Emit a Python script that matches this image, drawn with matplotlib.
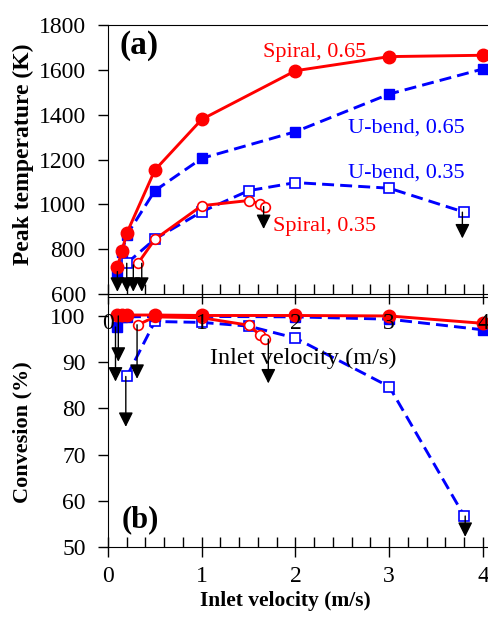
import matplotlib
matplotlib.use("Agg")
import matplotlib.pyplot as plt
from matplotlib.ticker import MultipleLocator

plt.rcParams['font.family'] = ['Liberation Serif', 'DejaVu Serif']

RED = '#ff0000'
BLUE = '#0000ff'

# ===============================
# Data
# ===============================
# Spiral, equivalence ratio 0.65
sp65_v = [0.1, 0.15, 0.2, 0.5, 1.0, 2.0, 3.0, 4.0]
sp65_T = [722, 793, 871, 1153, 1379, 1596, 1659, 1665]
sp65_X = [100.2, 100.2, 100.2, 100.2, 100.1, 100.1, 100.0, 98.4]

# U-bend, 0.65
ub65_v = [0.1, 0.15, 0.2, 0.5, 1.0, 2.0, 3.0, 4.0]
ub65_T = [700, 789, 863, 1061, 1205, 1324, 1492, 1604]
ub65_X = [97.6, 99.8, 99.8, 99.9, 99.9, 99.8, 99.3, 97.0]

# U-bend, 0.35
ub35_v = [0.2, 0.5, 1.0, 1.5, 2.0, 3.0, 3.8]
ub35_T = [737, 845, 967, 1061, 1097, 1072, 965]
ub35_X = [86.9, 98.8, 98.6, 97.8, 95.2, 84.7, 56.7]

# Spiral, 0.35
sp35_v = [0.32, 0.5, 1.0, 1.5, 1.62, 1.67]
sp35_T = [737, 844, 994, 1017, 1002, 990]
sp35_X = [98.1, 99.8, 99.6, 98.0, 95.9, 95.0]

# arrows (velocity, start value, end value)
arrT_v = [0.1, 0.2, 0.27, 0.36, 1.66, 3.78]
arrT_a = [700, 737, 730, 737, 990, 965]
arrT_b = [610, 610, 610, 610, 890, 848]

arrX_v = [0.08, 0.11, 0.19, 0.31, 1.71, 3.81]
arrX_a = [97.6, 100.0, 86.9, 98.1, 95.0, 56.7]
arrX_b = [85.8, 90.1, 76.0, 86.4, 85.4, 52.2]

labels = ['Spiral, 0.65', 'U-bend, 0.65', 'U-bend, 0.35', 'Spiral, 0.35']
label_pos = [(2.2, 1678), (3.18, 1340), (3.18, 1140), (2.31, 899)]
label_col = [RED, BLUE, BLUE, RED]

# ===============================
# Figure
# ===============================
fig = plt.figure(figsize=(4.89, 6.21), dpi=100)
W = 4.07 * 93.75 / 489
axb = fig.add_axes([108 / 489, 1 - 547 / 621, W, (547 - 297) / 621])
axt = fig.add_axes([108 / 489, 1 - 294 / 621, W, (294 - 25) / 621])

dash = (0, (4.1, 2.1))
LW = 2.1


def draw(ax, yv):
    sp65, ub65, ub35, sp35 = yv
    ax.plot(ub35_v, ub35, ls=dash, color=BLUE, lw=LW, marker='s', ms=6.5,
            mfc='white', mec=BLUE, mew=1.2, clip_on=False, zorder=3)
    ax.plot(ub65_v, ub65, ls=dash, color=BLUE, lw=LW, marker='s', ms=7.8,
            mfc=BLUE, mec=BLUE, clip_on=False, zorder=3)
    ax.plot(sp35_v, sp35, ls='-', color=RED, lw=LW, marker='o', ms=7,
            mfc='white', mec=RED, mew=1.2, clip_on=False, zorder=4)
    ax.plot(sp65_v, sp65, ls='-', color=RED, lw=LW, marker='o', ms=9,
            mfc=RED, mec=RED, clip_on=False, zorder=4)


def arrows(ax, xs, ya, yb):
    for x, a, b in zip(xs, ya, yb):
        ax.annotate('', xy=(x, b), xytext=(x, a),
                    arrowprops=dict(arrowstyle='-|>', color='black', lw=1.0,
                                    mutation_scale=22, shrinkA=0, shrinkB=0),
                    zorder=5, annotation_clip=False)


for ax in (axt, axb):
    ax.set_facecolor('none')
    ax.spines['right'].set_visible(False)
    ax.set_xlim(0, 4.07)
    ax.xaxis.set_major_locator(MultipleLocator(1))
    ax.xaxis.set_minor_locator(MultipleLocator(0.2))
    ax.tick_params(axis='x', which='major', direction='inout', length=15,
                   width=1, labelsize=17, pad=6)
    ax.tick_params(axis='x', which='minor', direction='in', length=7, width=1)
    ax.tick_params(axis='y', which='major', direction='out', length=7,
                   width=1, labelsize=17, pad=9)
    ax.tick_params(top=False, right=False)

# top panel
draw(axt, [sp65_T, ub65_T, ub35_T, sp35_T])
arrows(axt, arrT_v, arrT_a, arrT_b)
axt.set_ylim(600, 1800)
axt.yaxis.set_major_locator(MultipleLocator(200))
axt.set_ylabel('Peak temperature (K)', fontsize=17, fontweight='bold', va='center')
axt.yaxis.set_label_coords(-0.223, 0.52)
axt.set_xlabel('Inlet velocity (m/s)', fontsize=17.5)
axt.xaxis.set_label_coords(0.511, -0.2)
axt.text(0.03, 0.925, '(a)', transform=axt.transAxes, fontsize=24,
         fontweight='bold', va='center')
for s, (x, y), c in zip(labels, label_pos, label_col):
    axt.text(x, y, s, color=c, fontsize=16, ha='center', va='center')

# bottom panel
draw(axb, [sp65_X, ub65_X, ub35_X, sp35_X])
arrows(axb, arrX_v, arrX_a, arrX_b)
axb.set_ylim(50, 104.1)
axb.set_yticks([50, 60, 70, 80, 90, 100])
axb.set_ylabel('Convesion (%)', fontsize=16, fontweight='bold', va='center')
axb.yaxis.set_label_coords(-0.223, 0.46)
axb.set_xlabel('Inlet velocity (m/s)', fontsize=15.5, fontweight='bold')
axb.xaxis.set_label_coords(0.464, -0.175)
axb.text(0.035, 0.11, '(b)', transform=axb.transAxes, fontsize=22,
         fontweight='bold', va='center')

fig.savefig('out.png', dpi=100)
